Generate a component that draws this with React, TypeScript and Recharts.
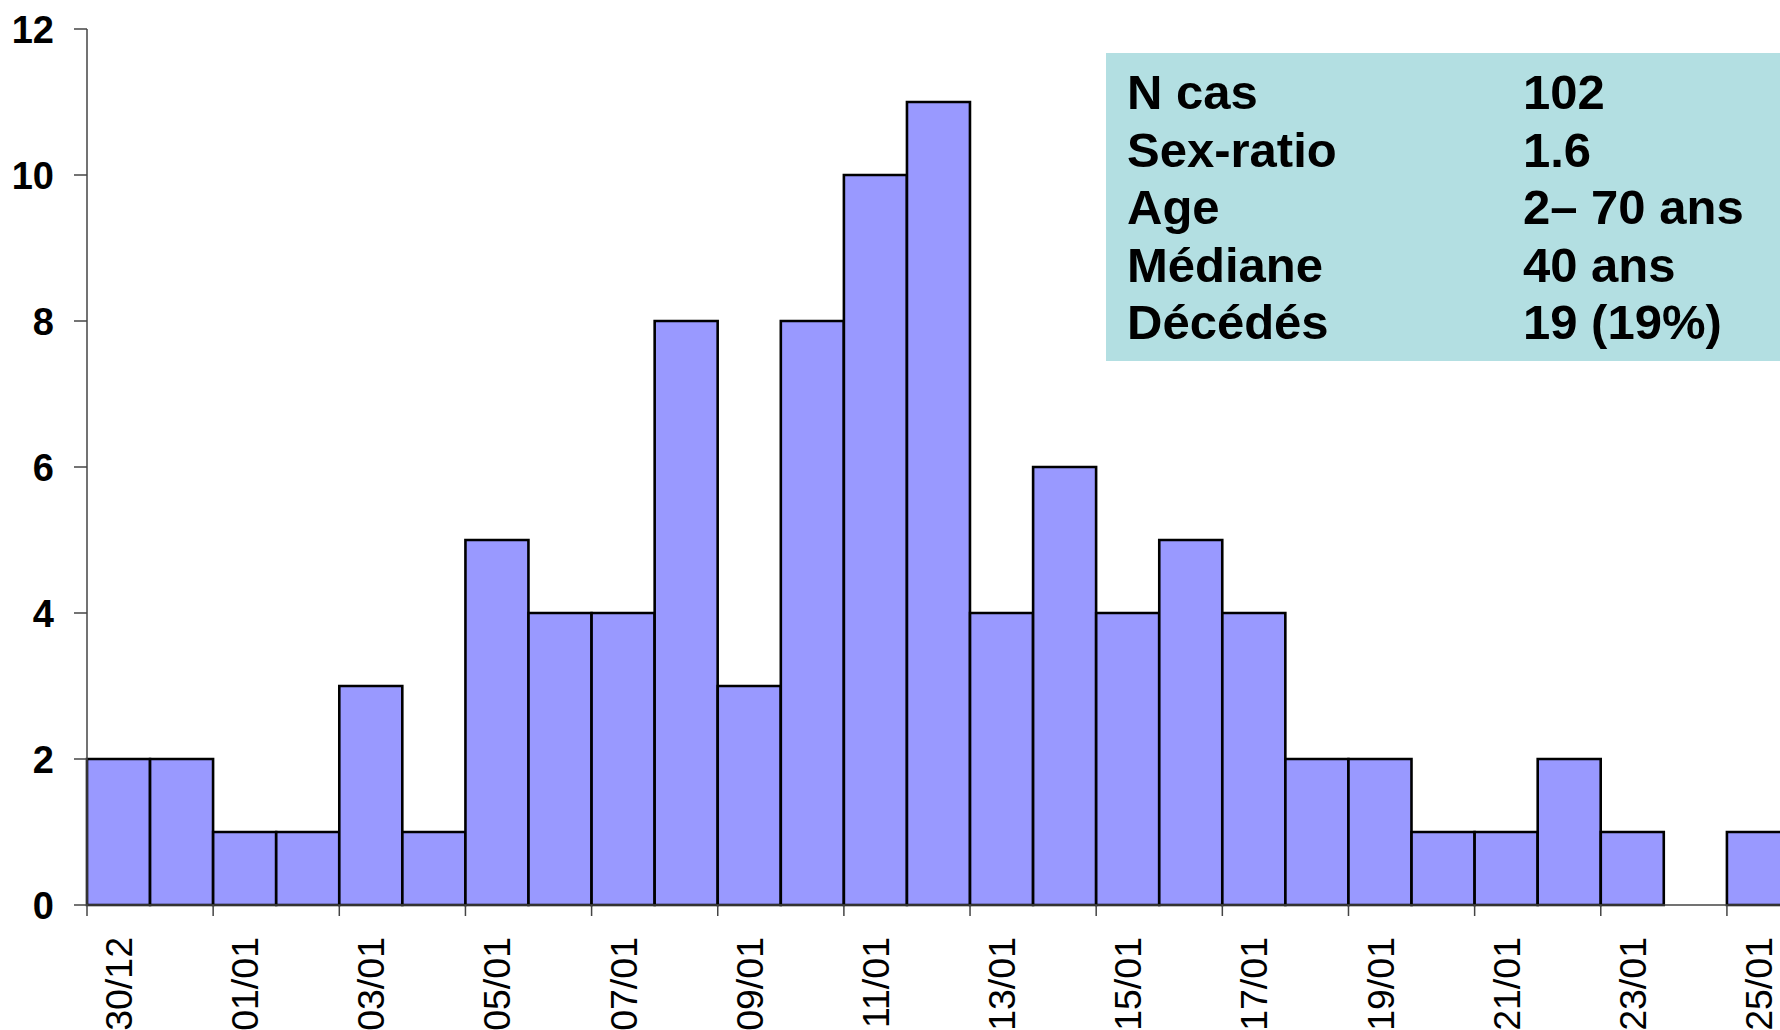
import React from 'react';
import { BarChart, Bar, XAxis, YAxis } from 'recharts';

const days = [
  '30/12', '31/12', '01/01', '02/01', '03/01', '04/01', '05/01', '06/01', '07/01',
  '08/01', '09/01', '10/01', '11/01', '12/01', '13/01', '14/01', '15/01', '16/01',
  '17/01', '18/01', '19/01', '20/01', '21/01', '22/01', '23/01', '24/01', '25/01',
];
const cases = [2, 2, 1, 1, 3, 1, 5, 4, 4, 8, 3, 8, 10, 11, 4, 6, 4, 5, 4, 2, 2, 1, 1, 2, 1, 0, 1];
const yTicks = [0, 2, 4, 6, 8, 10, 12];

const statLabels = ['N cas', 'Sex-ratio', 'Age', 'Médiane', 'Décédés'];
const statValues = ['102', '1.6', '2– 70 ans', '40 ans', '19 (19%)'];

const FONT = 'Arial, "Liberation Sans", sans-serif';
const CHART_W = 1800;
const CHART_H = 1030;
const Y_AXIS_W = 87;
const MARGIN = { top: 29, right: 10, left: 0, bottom: 0 };
const X_AXIS_H = 125;
const BAND = (CHART_W - Y_AXIS_W - MARGIN.right) / days.length;

const data = days.map((day, i) => ({ day, cases: cases[i] }));

// tick mark sits on the left edge of each day, label centred on the bar
const DayTick = ({ x, y, payload }: any) => {
  const edge = x - BAND / 2;
  return (
    <g>
      <line x1={edge} y1={y} x2={edge} y2={y + 11} stroke="#444" strokeWidth={1.5} />
      <text
        x={x}
        y={y + 32}
        transform={`rotate(-90, ${x}, ${y + 32})`}
        textAnchor="end"
        dy="0.36em"
        fontSize={37.5}
        fontFamily={FONT}
        fill="#000"
      >
        {payload.value}
      </text>
    </g>
  );
};

const CountTick = ({ x, y, payload }: any) => (
  <g>
    <line x1={x - 13} y1={y} x2={x} y2={y} stroke="#444" strokeWidth={1.5} />
    <text
      x={x - 33}
      y={y}
      dy="0.36em"
      textAnchor="end"
      fontSize={38}
      fontWeight="bold"
      fontFamily={FONT}
      fill="#000"
    >
      {payload.value}
    </text>
  </g>
);

const StatsBox = () => (
  <div
    style={{
      position: 'absolute',
      left: 1106,
      top: 53,
      width: 700,
      height: 308,
      background: '#B3DFE2',
      fontFamily: FONT,
      fontWeight: 'bold',
      fontSize: 49,
      lineHeight: '57.6px',
      color: '#000',
      boxSizing: 'border-box',
      paddingTop: 11,
    }}
  >
    {statLabels.map((label, i) => (
      <div key={label} style={{ position: 'relative', height: 57.6, whiteSpace: 'nowrap' }}>
        <span style={{ position: 'absolute', left: 21 }}>{label}</span>
        <span style={{ position: 'absolute', left: 417 }}>{statValues[i]}</span>
      </div>
    ))}
  </div>
);

export default function App() {
  return (
    <div
      style={{
        position: 'absolute',
        left: 0,
        top: 0,
        width: 1780,
        height: 1030,
        overflow: 'hidden',
        background: '#fff',
      }}
    >
      <BarChart width={CHART_W} height={CHART_H} data={data} margin={MARGIN} barCategoryGap={0}>
        <XAxis
          dataKey="day"
          interval={1}
          height={X_AXIS_H}
          tickSize={0}
          tickMargin={0}
          tick={<DayTick />}
          axisLine={{ stroke: '#444', strokeWidth: 1.5 }}
        />
        <YAxis
          width={Y_AXIS_W}
          domain={[0, 12]}
          ticks={yTicks}
          interval={0}
          tickSize={0}
          tickMargin={0}
          tick={<CountTick />}
          axisLine={{ stroke: '#444', strokeWidth: 1.5 }}
        />
        <Bar dataKey="cases" fill="#9999FF" stroke="#000" strokeWidth={2.6} isAnimationActive={false} />
      </BarChart>
      <StatsBox />
    </div>
  );
}
